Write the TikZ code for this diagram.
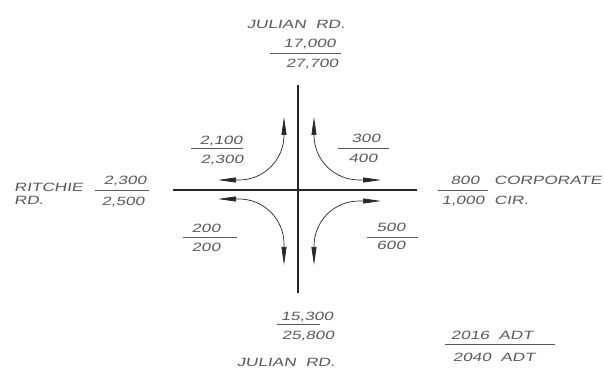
\documentclass[tikz,border=0pt]{standalone}
\usepackage{fontspec}
\setmainfont{Liberation Sans}[FakeSlant=0.2,FakeStretch=1.43]
\usetikzlibrary{arrows.meta}
\definecolor{txt}{RGB}{90,90,90}
\begin{document}
\begin{tikzpicture}[x=1pt,y=1pt,
  lbl/.style={font=\fontsize{12}{14}\selectfont, text=txt, inner sep=0pt, anchor=base},
  lbll/.style={lbl, anchor=base west},
  frac/.style={draw=txt, line width=0.7pt},
  road/.style={draw=black!85, line width=1.1pt},
  tip/.tip={Triangle[length=18pt,width=5pt]},
  turn/.style={draw=black!85, line width=0.7pt, tip-tip}]
\useasboundingbox (0,0) rectangle (604,390);
% roads
\coordinate (vt) at (298,305);
\coordinate (vb) at (298,97);
\coordinate (hl) at (173,200);
\coordinate (hr) at (417,200);
\draw[road] (vt) -- (vb);
\draw[road] (hl) -- (hr);
% turning arrows
\draw[turn] (218,210) -- (239,210) arc[start angle=270,end angle=360,radius=45] -- (284,273);
\draw[turn] (381,210) -- (359,210) arc[start angle=270,end angle=180,radius=45] -- (314,273);
\draw[turn] (218,191) -- (239,191) arc[start angle=90,end angle=0,radius=45] -- (284,125);
\draw[turn] (381,189) -- (359,189) arc[start angle=90,end angle=180,radius=45] -- (314,125);
% north
\node[lbl] (jn) at (296,361.7) {JULIAN\ \ RD.};
\node[lbl] (n1) at (309.5,342.7) {17,000};
\node[lbl] (n2) at (312,322.7) {27,700};
\draw[frac] (270,337) -- (341,337);
% NW
\node[lbl] (nw1) at (221,245.7) {2,100};
\node[lbl] (nw2) at (222,226.7) {2,300};
\draw[frac] (191,242) -- (243,242);
% west
\node[lbll] (rw1) at (14,198.7) {RITCHIE};
\node[lbll] (rw2) at (14,185.7) {RD.};
\node[lbl] (w1) at (125,205.7) {2,300};
\node[lbl] (w2) at (123,184.7) {2,500};
\draw[frac] (95,200) -- (149,200);
% SW
\node[lbl] (sw1) at (206,157.7) {200};
\node[lbl] (sw2) at (206,138.7) {200};
\draw[frac] (183,153) -- (237,153);
% NE
\node[lbl] (ne1) at (366,247.7) {300};
\node[lbl] (ne2) at (363,227.7) {400};
\draw[frac] (338,242) -- (389,242);
% east
\node[lbl] (e1) at (465,205.7) {800};
\node[lbl] (e2) at (463,185.7) {1,000};
\draw[frac] (438,200) -- (488,200);
\node[lbll] (ce1) at (494,205.7) {CORPORATE};
\node[lbll] (ce2) at (494,185.7) {CIR.};
% SE
\node[lbl] (se1) at (391,158.7) {500};
\node[lbl] (se2) at (391,140.7) {600};
\draw[frac] (367,153) -- (418,153);
% south
\node[lbl] (s1) at (307,69.7) {15,300};
\node[lbl] (s2) at (308,50.7) {25,800};
\draw[frac] (277,66) -- (320,66);
\node[lbl] (js) at (286,23.7) {JULIAN\ \ RD.};
% legend
\node[lbl] (l1) at (492,50.7) {2016\ \ ADT};
\node[lbl] (l2) at (494,28.7) {2040\ \ ADT};
\draw[frac] (445,46) -- (555,46);
\end{tikzpicture}
\end{document}
